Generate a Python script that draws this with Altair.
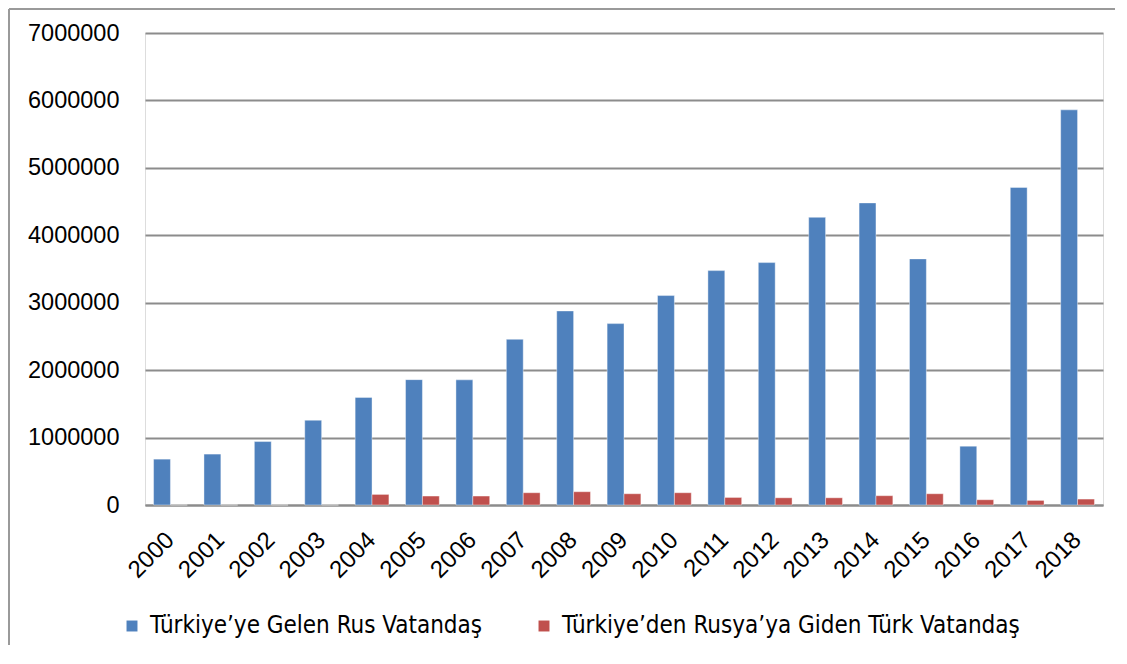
import altair as alt
import pandas as pd

years = [str(y) for y in range(2000, 2019)]
rus_to_turkey = [680000, 755000, 941000, 1257000, 1596000, 1859000, 1856000, 2457000,
                 2878000, 2690000, 3106000, 3476000, 3595000, 4266000, 4480000, 3650000,
                 873000, 4710000, 5860000]
turk_to_russia = [0, 0, 0, 0, 157000, 133000, 133000, 182000, 197000, 167000, 182000,
                  112000, 107000, 107000, 138000, 167000, 78000, 68000, 88000]
series_names = ["Türkiye’ye Gelen Rus Vatandaş", "Türkiye’den Rusya’ya Giden Türk Vatandaş"]
colors = ["#4F81BD", "#C0504D"]

rows = []
for i, y in enumerate(years):
    rows.append({"Yıl": y, "Seri": series_names[0], "Değer": rus_to_turkey[i]})
    rows.append({"Yıl": y, "Seri": series_names[1], "Değer": turk_to_russia[i]})
df = pd.DataFrame(rows)

FONT = "Liberation Sans"
LEGEND_FONT = "DejaVu Sans Condensed, Liberation Sans"

bars = alt.Chart(df).mark_bar(stroke="#ffffff", strokeOpacity=0.5, strokeWidth=0.8).encode(
    x=alt.X("Yıl:N", sort=years,
            scale=alt.Scale(paddingInner=0.33, paddingOuter=0.17),
            axis=alt.Axis(title=None, labelAngle=-45, labelFontSize=24, labelFont=FONT,
                          labelColor="#000000", ticks=False, domain=True,
                          domainColor="#8c8c8c", domainWidth=2, labelPadding=31,
                          labelAlign="right", labelBaseline="middle")),
    xOffset=alt.XOffset("Seri:N", sort=series_names),
    y=alt.Y("Değer:Q",
            scale=alt.Scale(domain=[0, 7000000], nice=False),
            axis=alt.Axis(title=None, values=list(range(0, 7000001, 1000000)), format="d",
                          labelFontSize=23.5, labelFont=FONT, labelColor="#000000",
                          ticks=False, domain=False, grid=True, gridColor="#8c8c8c",
                          gridWidth=2, labelPadding=26)),
    color=alt.Color("Seri:N", sort=series_names,
                    scale=alt.Scale(domain=series_names, range=colors),
                    legend=alt.Legend(title=None, orient="none", legendX=-25, legendY=581,
                                      direction="horizontal", symbolType="square",
                                      symbolSize=120, symbolStrokeWidth=0,
                                      labelFont=LEGEND_FONT, labelFontSize=24,
                                      labelColor="#000000", labelLimit=600,
                                      columnPadding=49, symbolOffset=0, labelOffset=6)),
)

border = alt.Chart(pd.DataFrame({"k": [0]})).mark_rule(color="#9a9a9a", strokeWidth=2).encode(
    x=alt.value(-136), x2=alt.value(-136), y=alt.value(-24), y2=alt.value(621))
border_top = alt.Chart(pd.DataFrame({"k": [0]})).mark_rule(color="#9a9a9a", strokeWidth=2).encode(
    x=alt.value(-136), x2=alt.value(985), y=alt.value(-24))
border_bottom = alt.Chart(pd.DataFrame({"k": [0]})).mark_rule(color="#9a9a9a", strokeWidth=2).encode(
    x=alt.value(-136), x2=alt.value(985), y=alt.value(621))

chart = alt.layer(border, border_top, border_bottom, bars).properties(
    width=958, height=472,
    autosize=alt.AutoSizeParams(type="none"),
    padding={"left": 137, "top": 25, "right": 12, "bottom": 140},
).configure_view(stroke=None).configure(background="#ffffff")

chart.save("out.html", embed_options={"renderer": "svg", "actions": False})
